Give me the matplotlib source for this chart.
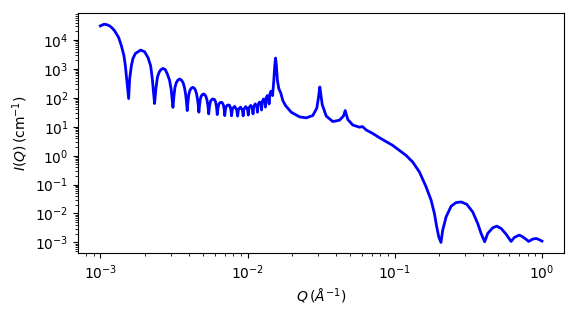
import numpy as np
import matplotlib
matplotlib.use('Agg')
import matplotlib.pyplot as plt

# Q in units of 1e-3 A^-1
q_milli = [
    1.000, 1.060, 1.110, 1.157, 1.200, 1.250, 1.331, 1.389, 1.446, 1.478, 1.509,
    1.556, 1.581, 1.624, 1.665, 1.729, 1.878, 1.998, 2.105, 2.195, 2.254,
    2.334, 2.380, 2.440, 2.500, 2.570, 2.660, 2.760, 2.850, 2.950, 3.030,
    3.112, 3.160, 3.210, 3.280, 3.360, 3.460, 3.560, 3.650, 3.730, 3.800, 3.850,
    3.890, 3.940, 3.990, 4.060, 4.140, 4.250, 4.350, 4.430, 4.510, 4.580, 4.630,
    4.668, 4.720, 4.770, 4.840, 4.920, 5.030, 5.130, 5.210, 5.290, 5.360, 5.410,
    5.446, 5.510, 5.600, 5.720, 5.810, 5.950, 6.070, 6.160,
    6.224, 6.290, 6.380, 6.500, 6.630, 6.730, 6.850, 6.940,
    7.002, 7.060, 7.160, 7.280, 7.420, 7.530, 7.630, 7.720,
    7.780, 7.900, 8.170, 8.440,
    8.558, 8.680, 8.950, 9.220,
    9.336, 9.450, 9.720, 9.997,
    10.114, 10.230, 10.500, 10.770,
    10.892, 11.010, 11.280, 11.550,
    11.670, 11.790, 12.060, 12.330,
    12.448, 12.570, 12.840, 13.110,
    13.226, 13.340, 13.610, 13.890,
    14.004, 14.150, 14.400, 14.650,
    14.782, 15.050, 15.300, 15.500, 15.700, 15.950, 16.310, 16.800,
    17.360, 18.110, 19.810, 22.540, 25.030, 27.750, 29.540, 30.340,
    30.970, 32.150, 34.220, 37.940, 42.130, 44.840, 46.060, 47.970,
    51.870, 57.590, 60.360, 63.960, 70.880, 78.800, 96.900, 119.50,
    132.50, 147.20, 163.40, 176.60, 186.00, 192.80, 199.00, 206.00,
    211.80, 223.30, 241.50, 261.10, 282.40, 308.30, 338.50, 366.10,
    386.00, 408.30, 428.00, 462.80, 492.60, 527.70, 570.50, 617.00,
    649.50, 702.40, 739.60, 780.00, 812.30, 864.80, 912.00, 950.00,
    1000.0,
]

intensity = [
    3.10e4, 3.55e4, 3.40e4, 3.10e4, 2.65e4, 2.09e4, 1.23e4, 6360, 2875, 1300, 452,
    95, 452, 1300, 2320, 3450, 4520, 3950, 2510, 1300, 452,
    64, 196, 513, 750, 938, 1050, 957, 672, 413, 190,
    47, 116, 229, 337, 413, 452, 409, 334, 223, 128, 68,
    36.5, 76.6, 133, 182, 216, 232, 215, 183, 133, 82.8, 52.5,
    32, 57.3, 88.5, 114, 129, 137, 129, 113, 87.9, 60, 41.7,
    28, 50.8, 76.9, 88.7, 92, 88.7, 71.8, 46.4,
    26.5, 43.2, 60.8, 68.4, 70.5, 68.3, 57.1, 39.4,
    24.5, 37.4, 50.2, 55.6, 57, 55.6, 48, 35.4,
    24, 42.3, 51, 38.9,
    23.5, 40.2, 48, 37.7,
    24, 41.6, 50, 39.5,
    25.5, 45.4, 55, 43.4,
    28, 50.8, 62, 49.2,
    32, 58.7, 72, 57.5,
    38, 73.8, 92, 73.3,
    48, 95.5, 120, 95.3,
    62, 130, 170, 150,
    120, 350, 1300, 2400, 1300, 400, 209, 150,
    80.7, 54.3, 31.9, 22.1, 20.4, 24.5, 44.5, 105,
    239, 58.7, 23.6, 15.2, 16.9, 23.6, 36.5, 17.9,
    11.5, 9.69, 10.2, 7.76, 5.87, 4.18, 2.27, 1.02,
    0.601, 0.272, 0.0827, 0.0288, 0.0100, 0.00345, 0.00156, 0.00100,
    0.00266, 0.00763, 0.01786, 0.0239, 0.0251, 0.0209, 0.01135, 0.00452,
    0.00204, 0.00105, 0.00204, 0.00319, 0.00365, 0.00304, 0.00193, 0.00108,
    0.00149, 0.00179, 0.00156, 0.00128, 0.00108, 0.00130, 0.00137, 0.00127,
    0.00111,
]

q = np.array(q_milli) * 1e-3
iq = np.array(intensity)

fig = plt.figure(figsize=(5.77, 3.16), dpi=100)
ax = fig.add_axes([0.1357, 0.1984, 0.8418, 0.7595])

ax.plot(q, iq, color='blue', linewidth=2)
ax.set_xscale('log')
ax.set_yscale('log')

ax.set_xlabel(r'$Q\,(\AA^{-1})$')
ax.set_ylabel(r'$I(Q)\,(\mathrm{cm}^{-1})$')

fig.savefig('out.png', dpi=100)
